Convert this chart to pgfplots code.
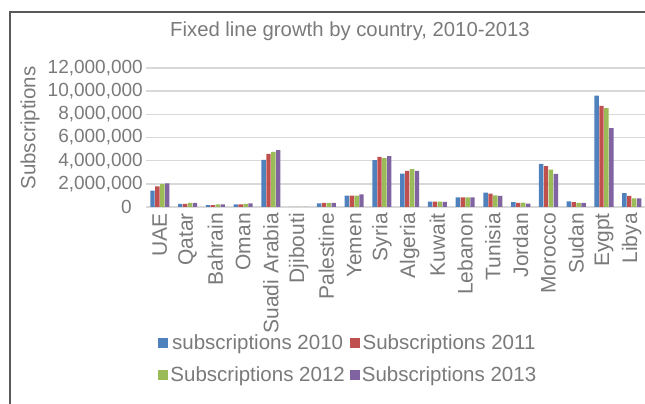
\documentclass[border=0pt]{standalone}
\usepackage{fontspec}
\setmainfont{Liberation Sans}
\usepackage{pgfplots}
\pgfplotsset{compat=1.18}
\definecolor{s1}{HTML}{4F81BD}
\definecolor{s2}{HTML}{C0504D}
\definecolor{s3}{HTML}{9BBB59}
\definecolor{s4}{HTML}{8064A2}
\definecolor{txt}{HTML}{7A7A7A}
\definecolor{grd}{HTML}{D9D9D9}
\newcommand{\titf}{\fontsize{20.3}{24}\selectfont}
\newcommand{\legf}{\fontsize{20.5}{24}\selectfont}
\newcommand{\ytf}{\fontsize{19}{23}\selectfont}
\newcommand{\xtf}{\fontsize{21}{25}\selectfont}
\pgfplotsset{sq/.style={legend image code/.code={\fill[##1] (0pt,-5pt) rectangle (10pt,5pt);}}}
\begin{document}
\begin{tikzpicture}[x=1pt,y=1pt]
\draw[line width=1.2pt, color=black!65] (10,-5) -- (10,392) -- (650,392);
\node[font=\titf, text=txt] at (350,373) {Fixed line growth by country, 2010-2013};
\node[font=\legf, text=txt, rotate=90] at (30,276) {Subscriptions};
\begin{axis}[
  at={(146pt,197pt)}, anchor=south west,
  scale only axis, width=499.6pt, height=139pt,
  xmin=-0.5, xmax=17.5, ymin=0, ymax=12000000,
  scaled y ticks=false,
  ybar=0.5pt, bar width=4.4pt,
  axis line style={draw=none},
  tick style={draw=none},
  major tick length=0pt,
  ymajorgrids, grid style={grd, line width=1.5pt},
  ytick={0,2000000,4000000,6000000,8000000,10000000,12000000},
  yticklabels={0\hspace*{11pt},{2,000,000},{4,000,000},{6,000,000},{8,000,000},{10,000,000},{12,000,000}},
  yticklabel style={font=\ytf, text=txt, inner sep=0pt, xshift=-3pt},
  xtick={0,...,17},
  xticklabels={UAE,Qatar,Bahrain,Oman,Suadi Arabia,Djibouti,Palestine,Yemen,Syria,Algeria,Kuwait,Lebanon,Tunisia,Jordan,Morocco,Sudan,Eygpt,Libya},
  xticklabel style={font=\xtf, text=txt, yshift=-6pt, rotate=90, anchor=east, inner sep=0pt},
  legend style={at={(0.405,-1.094)}, anchor=center, draw=none, fill=none,
    legend columns=2, font=\legf, text=txt, row sep=12pt,
    /tikz/every even column/.append style={column sep=3pt}},
]
\addplot[sq, fill=s1, draw=none] coordinates {(0,1410000) (1,260000) (2,170000) (3,230000) (4,4070000) (5,12000) (6,320000) (7,980000) (8,4040000) (9,2890000) (10,460000) (11,840000) (12,1240000) (13,430000) (14,3720000) (15,490000) (16,9610000) (17,1190000)};
\addplot[sq, fill=s2, draw=none] coordinates {(0,1790000) (1,260000) (2,170000) (3,230000) (4,4590000) (5,12000) (6,350000) (7,990000) (8,4330000) (9,3120000) (10,460000) (11,840000) (12,1150000) (13,350000) (14,3520000) (15,410000) (16,8740000) (17,950000)};
\addplot[sq, fill=s3, draw=none] coordinates {(0,1970000) (1,350000) (2,230000) (3,260000) (4,4760000) (5,12000) (6,350000) (7,990000) (8,4210000) (9,3260000) (10,460000) (11,840000) (12,1010000) (13,370000) (14,3230000) (15,350000) (16,8540000) (17,750000)};
\addplot[sq, fill=s4, draw=none] coordinates {(0,2050000) (1,350000) (2,230000) (3,320000) (4,4910000) (5,12000) (6,350000) (7,1100000) (8,4390000) (9,3120000) (10,450000) (11,840000) (12,950000) (13,290000) (14,2860000) (15,350000) (16,6810000) (17,750000)};
\legend{subscriptions 2010,Subscriptions 2011,Subscriptions 2012,Subscriptions 2013}
\end{axis}
\pgfresetboundingbox
\path[use as bounding box] (0,0) rectangle (645,404);
\end{tikzpicture}
\end{document}
